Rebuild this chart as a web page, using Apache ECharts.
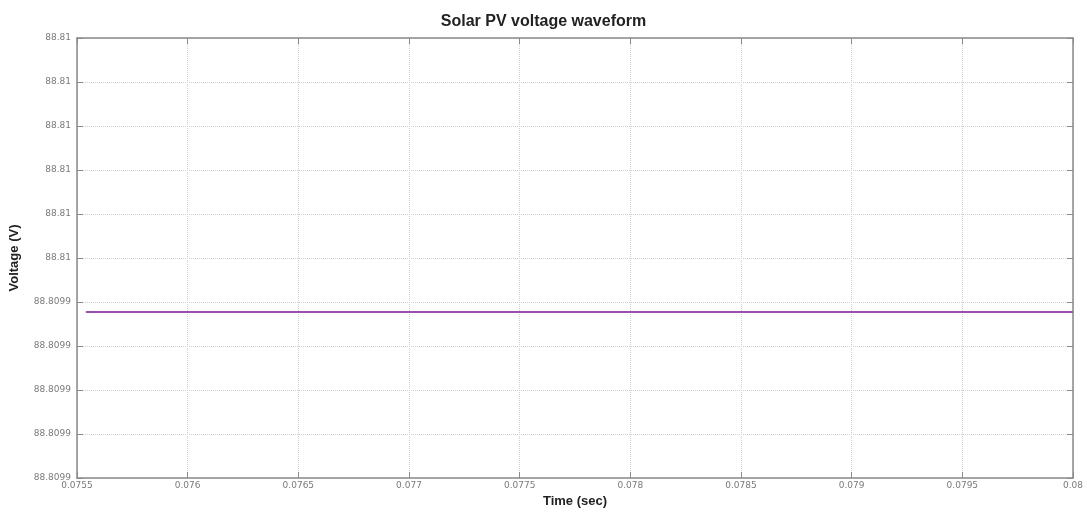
<!DOCTYPE html>
<html>
<head>
<meta charset="utf-8">
<title>Solar PV voltage waveform</title>
<script src="https://cdn.jsdelivr.net/npm/echarts@6/dist/echarts.min.js"></script>
<style>
  html, body { margin: 0; padding: 0; background: #fff; }
  #chart { width: 1087px; height: 513px; }
</style>
</head>
<body>
<div id="chart"></div>
<script>
  // time samples (sec) and PV voltage (V)
  var timeSec = [0.07554, 0.0760, 0.0765, 0.0770, 0.0775, 0.0780, 0.0785, 0.0790, 0.0795, 0.0800]
  var voltage = [88.8099377, 88.8099377, 88.8099377, 88.8099377, 88.8099377, 88.8099377, 88.8099377, 88.8099377, 88.8099377, 88.8099377]

  var xTicks = [0.0755, 0.0760, 0.0765, 0.0770, 0.0775, 0.0780, 0.0785, 0.0790, 0.0795, 0.0800]
  var yMin = 88.8099
  var yMax = 88.8100

  var chart = echarts.init(document.getElementById('chart'))
  var axisGrey = '#8a8a8a'
  var labelStyle = {color: '#7a7a7a', fontSize: 9, fontFamily: 'DejaVu Sans'}
  var nameStyle = {fontFamily: 'Liberation Sans', fontWeight: 'bold', fontSize: 13, color: '#222'}
  var fmt = function (v) { return String(+v.toFixed(4)) }

  // mirror axes give the closed box with ticks on top and right
  function boxAxis(base, pos) {
    return Object.assign({}, base, {
      position: pos,
      name: '',
      axisLabel: {show: false},
      splitLine: {show: false}
    })
  }

  var xMain = {
    type: 'value',
    min: xTicks[0],
    max: xTicks[xTicks.length - 1],
    interval: 0.0005,
    name: 'Time (sec)',
    nameLocation: 'middle',
    nameGap: 17,
    nameTextStyle: nameStyle,
    axisLine: {lineStyle: {color: axisGrey, width: 1.5}},
    axisTick: {inside: true, length: 6, lineStyle: {color: axisGrey}},
    axisLabel: Object.assign({margin: 3, formatter: fmt}, labelStyle),
    splitLine: {show: true, lineStyle: {color: '#d0d0d0', type: 'dotted'}}
  }
  var yMain = {
    type: 'value',
    min: yMin,
    max: yMax,
    interval: 0.00001,
    name: 'Voltage (V)',
    nameLocation: 'middle',
    nameGap: 56,
    nameTextStyle: nameStyle,
    axisLine: {show: true, lineStyle: {color: axisGrey, width: 1.5}},
    axisTick: {show: true, inside: true, length: 6, lineStyle: {color: axisGrey}},
    axisLabel: Object.assign({margin: 6, formatter: fmt}, labelStyle),
    splitLine: {show: true, lineStyle: {color: '#d0d0d0', type: 'dotted'}}
  }

  chart.setOption({
    animation: false,
    title: {
      text: 'Solar PV voltage waveform',
      left: 'center',
      top: 9,
      textStyle: {fontFamily: 'Liberation Sans', fontWeight: 'bold', fontSize: 16, color: '#222'}
    },
    grid: {left: 77, right: 14, top: 38, bottom: 33},
    xAxis: [Object.assign({position: 'bottom'}, xMain), boxAxis(xMain, 'top')],
    yAxis: [Object.assign({position: 'left'}, yMain), boxAxis(yMain, 'right')],
    series: [{
      type: 'line',
      data: timeSec.map(function (t, i) { return [t, voltage[i]] }),
      showSymbol: false,
      lineStyle: {color: '#9b4fae', width: 2}
    }]
  })
</script>
</body>
</html>
